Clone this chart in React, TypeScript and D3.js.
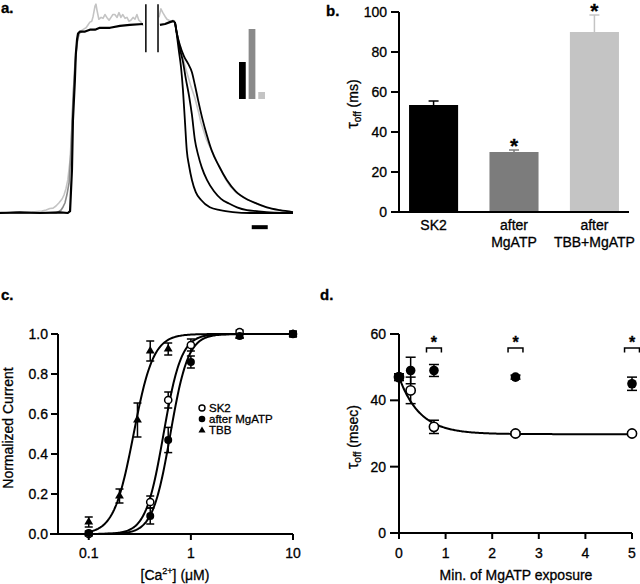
import React from 'react';
import * as d3 from 'd3';

const FONT = "'Liberation Sans', Arial, Helvetica, sans-serif";
const C_BLACK = '#000000';
const C_MID = '#7c7c7c';
const C_LIGHT = '#c4c4c4';

// ---------------- Panel a: current traces [time (ms), current (% of plateau)] ----------------
const blackPre: [number, number][] = [
  [0, 0], [62, 0.3], [125, 0], [188, 0.3], [212, 0], [219, 1], [225, 23], [228, 49], [234, 70],
  [237, 84], [241, 92], [244, 95], [250, 96], [266, 96], [281, 97], [297, 97], [312, 98],
  [344, 98], [375, 99], [406, 99.5], [447, 100],
];
const blackPost: [number, number][] = [
  [500, 99.5], [516, 100], [531, 101], [541, 101.5], [547, 101],
];
const decayFast: [number, number][] = [
  [547, 101], [553, 94], [559, 86], [566, 77], [572, 65], [578, 49], [584, 33], [591, 25],
  [600, 17.5], [612, 11], [628, 7], [656, 3], [688, 1.5], [728, 0.5], [781, 0], [916, 0],
];
const decayMid: [number, number][] = [
  [547, 101], [553, 95], [562, 87], [572, 80], [581, 71], [591, 62], [600, 52], [609, 39],
  [619, 31], [631, 24], [647, 17.5], [669, 11.5], [691, 7.5], [716, 5], [741, 3], [772, 1.5],
  [803, 1], [844, 0.3], [916, 0],
];
const decaySlow: [number, number][] = [
  [547, 101], [553, 95], [562, 89], [575, 83], [588, 79], [600, 74.5], [609, 68], [619, 60],
  [634, 49], [647, 41], [662, 33], [684, 25], [709, 17.5], [737, 11.5], [775, 7], [803, 5],
  [834, 3], [875, 1.5], [916, 0.5],
];
const lightPre: [number, number][] = [
  [0, 0.5], [25, 0], [50, 0.5], [75, 0.3], [100, 0.5], [116, 0.8], [131, 1], [144, 1.6],
  [156, 2.4], [166, 2.6], [175, 3.7], [184, 5.3], [194, 7.4], [200, 9.5], [206, 12.7],
  [212, 17.5], [219, 28], [225, 46.5], [231, 68], [237, 84], [244, 92.5], [250, 96], [259, 97],
  [269, 98], [275, 99.5], [281, 101], [287, 101.5], [291, 104], [297, 109.5], [300, 110.5],
  [303, 107.5], [309, 102.5], [316, 103.5], [322, 103], [328, 105], [334, 103.5], [341, 102],
  [347, 103.5], [353, 105], [359, 105], [366, 103.5], [372, 106], [378, 103.5], [384, 105],
  [391, 103], [397, 103.5], [403, 101.5], [409, 102], [416, 103.5], [422, 102.5], [428, 105],
  [434, 102], [441, 101], [447, 99],
];
const lightPost: [number, number][] = [
  [497, 103.5], [503, 108], [509, 106], [516, 104], [522, 102.5], [528, 102], [534, 101.5],
  [541, 102], [547, 101], [553, 95], [559, 90.5], [566, 87], [572, 82.5], [578, 78],
  [584, 74.5], [591, 70.5], [597, 67], [603, 64], [609, 61], [616, 56.5], [622, 52.5],
  [628, 48], [634, 45], [644, 39.5], [653, 36], [662, 33], [675, 28], [688, 24], [703, 18.5],
  [719, 14.3], [737, 11], [756, 9], [775, 7], [797, 5.3], [819, 3.7], [844, 2.6], [869, 1.6],
  [891, 1], [916, 0.5],
];
const midRise: [number, number][] = [
  [0, 0], [175, 0], [181, 0.5], [191, 1.6], [197, 3.2], [203, 5.3], [209, 9.5], [216, 16],
  [222, 33], [228, 60], [234, 78], [241, 90.5], [247, 95], [256, 96],
];
const breakTimes = [456, 494];
const breakLevels = [85, 110.5];
const scaleBarMs = [787, 837];
const scaleBarLevel = -7.5;
const insetValues = [37, 70, 7];
const insetColors = [C_BLACK, '#8a8a8a', C_LIGHT];

// ---------------- Panel b ----------------
const bCategories = [['SK2'], ['after', 'MgATP'], ['after', 'TBB+MgATP']];
const bMeans = [53.5, 30, 90];
const bErrs = [2, 1, 8.5];
const bSig = [false, true, true];
const bColors = [C_BLACK, C_MID, C_LIGHT];
const bTicks = [0, 20, 40, 60, 80, 100];

// ---------------- Panel c ----------------
const cConc = [0.1, 0.4, 0.6, 1, 3, 10];
const cSK2 = [0.0, 0.16, 0.67, 0.945, 1.01, 1.0];
const cSK2Err = [0.01, 0.03, 0.04, 0.03, 0.01, 0.01];
const cMg = [0.005, 0.09, 0.47, 0.86, 0.99, 1.0];
const cMgErr = [0.01, 0.04, 0.063, 0.03, 0.01, 0.015];
const cTBBConc = [0.1, 0.2, 0.3, 0.4, 0.6, 3, 10];
const cTBB = [0.06, 0.19, 0.57, 0.915, 0.925, 0.99, 1.0];
const cTBBErr = [0.025, 0.035, 0.085, 0.05, 0.03, 0.01, 0.01];
const cFitEC50 = [0.54, 0.63, 0.275];
const cFitHill = [5, 5, 4.5];
const cYTicks = [0, 0.2, 0.4, 0.6, 0.8, 1.0];
const cXTicks = [0.1, 1, 10];
const cLegend = ['SK2', 'after MgATP', 'TBB'];

// ---------------- Panel d ----------------
const dMin = [0, 0.25, 0.75, 2.5, 5];
const dOpen = [47, 43, 32, 30, 30];
const dOpenErr = [1, 4, 2, 0.5, 0.5];
const dFilled = [47, 49, 49, 47, 45];
const dFilledErr = [1, 4, 1.8, 0.6, 2];
const dSigMin = [0.75, 2.5, 5];
const dFit = { plateau: 29.8, span: 17.2, tau: 0.45 };
const dYTicks = [0, 20, 40, 60];
const dXTicks = [0, 1, 2, 3, 4, 5];

export default function App() {
  // ---------- scales ----------
  const xA = d3.scaleLinear().domain([0, 916]).range([0, 293]);
  const yA = d3.scaleLinear().domain([0, 100]).range([213, 24]);
  const lineA = d3.line<[number, number]>().x((d) => xA(d[0])).y((d) => yA(d[1]));
  const lineAs = d3
    .line<[number, number]>()
    .x((d) => xA(d[0]))
    .y((d) => yA(d[1]))
    .curve(d3.curveMonotoneX);
  const xInset = d3.scaleBand<number>().domain([0, 1, 2]).range([239, 265]).paddingInner(0.3);
  const yInset = d3.scaleLinear().domain([0, 70]).range([99, 29]);

  const xB = d3
    .scaleBand<number>()
    .domain([0, 1, 2])
    .range([399, 629])
    .paddingInner(0.39)
    .paddingOuter(0.125);
  const yB = d3.scaleLinear().domain([0, 100]).range([212, 12]);

  const xC = d3.scaleLog().domain([0.05, 10]).range([58, 293]);
  const yC = d3.scaleLinear().domain([0, 1]).range([534, 334]);

  const xD = d3.scaleLinear().domain([0, 5]).range([399, 632]);
  const yD = d3.scaleLinear().domain([0, 60]).range([533, 334]);

  const hillConc = d3.range(0, 201).map((i) => 0.1 * Math.pow(100, i / 200));
  const hillLine = d3
    .line<number>()
    .x((c) => xC(c))
    .curve(d3.curveLinear);
  const fitD = d3.range(0, 5.0001, 0.02);
  const fitDLine = d3
    .line<number>()
    .x((t) => xD(t))
    .y((t) => yD(dFit.plateau + dFit.span * Math.exp(-t / dFit.tau)));

  const tri = (size: number) => d3.symbol(d3.symbolTriangle, size)() as string;

  const txt = { fontFamily: FONT, fill: '#000', stroke: '#000', strokeWidth: 0.3 } as const;

  const errBar = (x: number, y1: number, y2: number, cap: number, color: string, key: string) => (
    <g key={key} stroke={color} strokeWidth={1.5}>
      <line x1={x} x2={x} y1={y1} y2={y2} />
      <line x1={x - cap / 2} x2={x + cap / 2} y1={y1} y2={y1} />
      <line x1={x - cap / 2} x2={x + cap / 2} y1={y2} y2={y2} />
    </g>
  );

  return (
    <svg
      width={640}
      height={584}
      style={{ position: 'absolute', left: 0, top: 0, background: '#fff' }}
    >
      <rect x={0} y={0} width={640} height={584} fill="#fff" />

      {/* ================= Panel a ================= */}
      <text x={1} y={13} fontSize={15} fontWeight="bold" {...txt}>a.</text>
      <g fill="none" strokeLinejoin="round">
        <path d={lineA(lightPre) as string} stroke={C_LIGHT} strokeWidth={1.6} />
        <path d={lineA(lightPost) as string} stroke={C_LIGHT} strokeWidth={1.6} />
        <path d={lineA(midRise) as string} stroke="#8a8a8a" strokeWidth={1.6} />
        <path d={lineA(blackPre) as string} stroke={C_BLACK} strokeWidth={2.2} />
        <path d={lineA(blackPost) as string} stroke={C_BLACK} strokeWidth={2.2} />
        <path d={lineAs(decayFast) as string} stroke={C_BLACK} strokeWidth={1.8} />
        <path d={lineAs(decayMid) as string} stroke={C_BLACK} strokeWidth={1.8} />
        <path d={lineAs(decaySlow) as string} stroke={C_BLACK} strokeWidth={1.8} />
      </g>
      {breakTimes.map((t, i) => (
        <line
          key={'br' + i}
          x1={xA(t)}
          x2={xA(t)}
          y1={yA(breakLevels[0])}
          y2={yA(breakLevels[1])}
          stroke="#000"
          strokeWidth={1.5}
        />
      ))}
      <line
        x1={xA(scaleBarMs[0])}
        x2={xA(scaleBarMs[1])}
        y1={yA(scaleBarLevel)}
        y2={yA(scaleBarLevel)}
        stroke="#000"
        strokeWidth={4}
      />
      {insetValues.map((v, i) => (
        <rect
          key={'in' + i}
          x={xInset(i)}
          width={xInset.bandwidth()}
          y={yInset(v)}
          height={yInset(0) - yInset(v)}
          fill={insetColors[i]}
        />
      ))}

      {/* ================= Panel b ================= */}
      <text x={326} y={16} fontSize={15} fontWeight="bold" {...txt}>b.</text>
      {bMeans.map((v, i) => {
        const x = xB(i)!;
        const cx = x + xB.bandwidth() / 2;
        return (
          <g key={'bb' + i}>
            <rect x={x} width={xB.bandwidth()} y={yB(v)} height={yB(0) - yB(v)} fill={bColors[i]} />
            <g stroke={bColors[i]} strokeWidth={1.5}>
              <line x1={cx} x2={cx} y1={yB(v)} y2={yB(v + bErrs[i])} />
              <line x1={cx - 5} x2={cx + 5} y1={yB(v + bErrs[i])} y2={yB(v + bErrs[i])} />
            </g>
            {bSig[i] && (
              <text
                x={cx}
                y={yB(v + bErrs[i]) + 3}
                textAnchor="middle"
                fontSize={21}
                fontWeight="bold"
                {...txt}
              >
                *
              </text>
            )}
            <text textAnchor="middle" fontSize={14} {...txt}>
              {bCategories[i].map((s, j) => (
                <tspan key={j} x={cx} y={230 + j * 17}>
                  {s}
                </tspan>
              ))}
            </text>
          </g>
        );
      })}
      <g stroke="#000" strokeWidth={2}>
        <line x1={399} x2={399} y1={yB(100)} y2={yB(0)} />
        <line x1={391} x2={629} y1={yB(0)} y2={yB(0)} />
        {bTicks.map((t) => (
          <line key={'bt' + t} x1={391} x2={399} y1={yB(t)} y2={yB(t)} />
        ))}
      </g>
      {bTicks.map((t) => (
        <text
          key={'btl' + t}
          x={387}
          y={yB(t)}
          dy="0.35em"
          textAnchor="end"
          fontSize={14}
          {...txt}
        >
          {t}
        </text>
      ))}
      <text transform={`translate(358,104) rotate(-90)`} textAnchor="middle" fontSize={14} {...txt}>
        <tspan fontSize={16}>τ</tspan>
        <tspan fontSize={10} dy={3}>off</tspan>
        <tspan dy={-3}>{'  (ms)'}</tspan>
      </text>

      {/* ================= Panel c ================= */}
      <text x={1} y={300} fontSize={15} fontWeight="bold" {...txt}>c.</text>
      <g fill="none" stroke="#000" strokeWidth={2}>
        {cFitEC50.map((ec, i) => (
          <path
            key={'cf' + i}
            d={
              hillLine.y((c) => yC(1 / (1 + Math.pow(ec / c, cFitHill[i]))))(hillConc) as string
            }
          />
        ))}
      </g>
      {cTBBConc.map((c, i) =>
        errBar(xC(c), yC(cTBB[i] + cTBBErr[i]), yC(cTBB[i] - cTBBErr[i]), 8, '#000', 'ce3' + i)
      )}
      {cConc.map((c, i) =>
        errBar(xC(c), yC(cSK2[i] + cSK2Err[i]), yC(cSK2[i] - cSK2Err[i]), 8, '#000', 'ce1' + i)
      )}
      {cConc.map((c, i) =>
        errBar(xC(c), yC(cMg[i] + cMgErr[i]), yC(cMg[i] - cMgErr[i]), 8, '#000', 'ce2' + i)
      )}
      {cTBBConc.map((c, i) => (
        <path key={'ct' + i} d={tri(34)} transform={`translate(${xC(c)},${yC(cTBB[i])})`} fill="#000" />
      ))}
      {cConc.map((c, i) => (
        <circle key={'co' + i} cx={xC(c)} cy={yC(cSK2[i])} r={3.6} fill="#fff" stroke="#000" strokeWidth={1.5} />
      ))}
      {cConc.map((c, i) => (
        <circle key={'cm' + i} cx={xC(c)} cy={yC(cMg[i])} r={4} fill="#000" />
      ))}
      <g stroke="#000" strokeWidth={2}>
        <line x1={58} x2={58} y1={yC(1)} y2={yC(0)} />
        <line x1={50} x2={293} y1={yC(0)} y2={yC(0)} />
        {cYTicks.map((t) => (
          <line key={'cyt' + t} x1={51} x2={58} y1={yC(t)} y2={yC(t)} />
        ))}
        {cXTicks.map((t) => (
          <line key={'cxt' + t} x1={xC(t)} x2={xC(t)} y1={yC(0)} y2={yC(0) + 6} />
        ))}
      </g>
      {cYTicks.map((t) => (
        <text key={'cyl' + t} x={48} y={yC(t)} dy="0.35em" textAnchor="end" fontSize={14} {...txt}>
          {d3.format('.1f')(t)}
        </text>
      ))}
      {cXTicks.map((t) => (
        <text key={'cxl' + t} x={xC(t)} y={558} textAnchor="middle" fontSize={14} {...txt}>
          {String(t)}
        </text>
      ))}
      <text x={175} y={580} textAnchor="middle" fontSize={14} {...txt}>
        <tspan>[Ca</tspan>
        <tspan fontSize={9} dy={-6}>2+</tspan>
        <tspan dy={6}>] (μM)</tspan>
      </text>
      <text transform="translate(13,428) rotate(-90)" textAnchor="middle" fontSize={14} {...txt}>
        Normalized Current
      </text>
      {/* legend */}
      <circle cx={202} cy={408} r={3} fill="#fff" stroke="#000" strokeWidth={1.4} />
      <circle cx={202} cy={419} r={3.3} fill="#000" />
      <path d={tri(22)} transform="translate(202,430.5)" fill="#000" />
      {cLegend.map((s, i) => (
        <text key={'lg' + i} x={209} y={408 + i * 11} dy="0.35em" fontSize={11.5} {...txt}>
          {s}
        </text>
      ))}

      {/* ================= Panel d ================= */}
      <text x={320} y={300} fontSize={15} fontWeight="bold" {...txt}>d.</text>
      <path d={fitDLine(fitD) as string} fill="none" stroke="#000" strokeWidth={2} />
      {dMin.map((t, i) =>
        errBar(xD(t), yD(dOpen[i] + dOpenErr[i]), yD(dOpen[i] - dOpenErr[i]), 10, '#000', 'de1' + i)
      )}
      {dMin.map((t, i) => (
        <circle key={'do' + i} cx={xD(t)} cy={yD(dOpen[i])} r={4.6} fill="#fff" stroke="#000" strokeWidth={1.6} />
      ))}
      {dMin.map((t, i) =>
        errBar(xD(t), yD(dFilled[i] + dFilledErr[i]), yD(dFilled[i] - dFilledErr[i]), 10, '#000', 'de2' + i)
      )}
      {dMin.map((t, i) => (
        <circle key={'df' + i} cx={xD(t)} cy={yD(dFilled[i])} r={4.8} fill="#000" />
      ))}
      {dSigMin.map((t, i) => (
        <g key={'ds' + i}>
          <path
            d={`M${xD(t - 0.16)},${yD(54.4)}V${yD(55.8)}H${xD(t + 0.16)}V${yD(54.4)}`}
            fill="none"
            stroke="#000"
            strokeWidth={1.5}
          />
          <text x={xD(t)} y={yD(55.8)} textAnchor="middle" fontSize={16} fontWeight="bold" {...txt}>
            *
          </text>
        </g>
      ))}
      <g stroke="#000" strokeWidth={2}>
        <line x1={399} x2={399} y1={yD(60)} y2={yD(0)} />
        <line x1={390} x2={632} y1={yD(0)} y2={yD(0)} />
        {dYTicks.map((t) => (
          <line key={'dyt' + t} x1={390} x2={399} y1={yD(t)} y2={yD(t)} />
        ))}
        {dXTicks.map((t) => (
          <line key={'dxt' + t} x1={xD(t)} x2={xD(t)} y1={yD(0)} y2={yD(0) + 6} />
        ))}
      </g>
      {dYTicks.map((t) => (
        <text key={'dyl' + t} x={386} y={yD(t)} dy="0.35em" textAnchor="end" fontSize={14} {...txt}>
          {t}
        </text>
      ))}
      {dXTicks.map((t) => (
        <text key={'dxl' + t} x={xD(t)} y={558} textAnchor="middle" fontSize={14} {...txt}>
          {t}
        </text>
      ))}
      <text x={516} y={580} textAnchor="middle" fontSize={14} {...txt}>
        Min. of MgATP exposure
      </text>
      <text transform="translate(358,437) rotate(-90)" textAnchor="middle" fontSize={14} {...txt}>
        <tspan fontSize={16}>τ</tspan>
        <tspan fontSize={10} dy={3}>off</tspan>
        <tspan dy={-3}> (msec)</tspan>
      </text>
    </svg>
  );
}
